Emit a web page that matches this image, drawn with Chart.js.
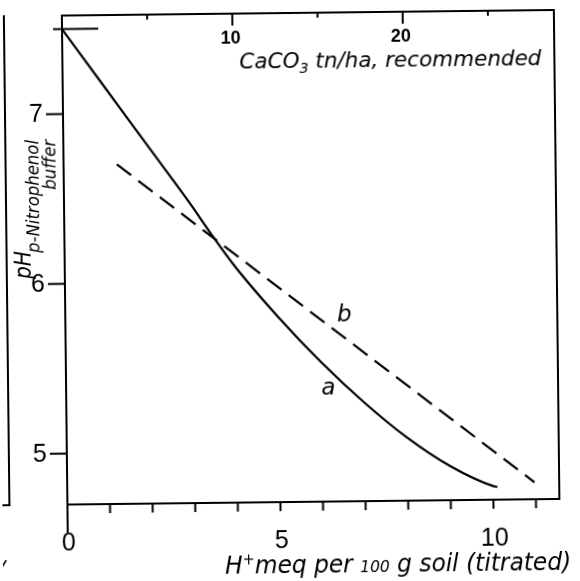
<!DOCTYPE html>
<html>
<head>
<meta charset="utf-8">
<script src="https://cdn.jsdelivr.net/npm/chart.js@4.4.1/dist/chart.umd.min.js"></script>
<style>
  html, body { margin: 0; padding: 0; background: #fff; overflow: hidden; }
  #wrap { width: 580px; height: 581px; transform: rotate(-0.65deg); transform-origin: 290px 290px; }
  canvas { display: block; }
</style>
</head>
<body>
<div id="wrap"><canvas id="chart" width="580" height="581"></canvas></div>
<script>
// Curve a: pH of the p-nitrophenol buffer against titrated H+ (meq per 100 g soil)
const curveAX = [0, 1, 2, 3, 3.43, 4, 5, 6, 7, 8, 9, 10, 10.1];
const curveAY = [7.50, 7.15, 6.80, 6.45, 6.29, 6.09, 5.79, 5.52, 5.28, 5.07, 4.90, 4.78, 4.775];
// Line b (dashed): straight relation, end points
const lineBX = [1.25, 10.97];
const lineBY = [6.70, 4.80];
// Axis ticks
const pHTicks = [5, 6, 7];
const meqTicks = [0, 1, 2, 3, 4, 5, 6, 7, 8, 9, 10, 11];
const meqLabels = [0, 5, 10];
const limeTicks = [5, 10, 15, 20, 25];
const limeLabels = [10, 20];
// CaCO3 (t/ha) recommended per meq H+ per 100 g soil
const limePerMeq = 2.5;
// starting pH of the buffer
const startPH = 7.5;
// curve labels: [text, x (meq), pH at baseline]
const curveLabels = [['b', 6.55, 5.76], ['a', 6.16, 5.33]];

const xMin = 0, xMax = 11.55, yMin = 4.70, yMax = 7.58;

const NARROW = '"Liberation Sans Narrow", "Liberation Sans", sans-serif';
const SANS = '"Liberation Sans", sans-serif';
const ITAL = '"DejaVu Sans", "Liberation Sans", sans-serif';

function richText(ctx, parts, x, y, width, align) {
  let total = 0;
  parts.forEach(p => { ctx.font = p[1]; total += ctx.measureText(p[0]).width; });
  const sx = width ? width / total : 1;
  ctx.save();
  ctx.translate(x, y);
  ctx.scale(sx, 1);
  let cx = align === 'right' ? -total : 0;
  ctx.textAlign = 'left';
  ctx.textBaseline = 'alphabetic';
  parts.forEach(p => {
    ctx.font = p[1];
    ctx.fillText(p[0], cx, p[2] || 0);
    cx += ctx.measureText(p[0]).width;
  });
  ctx.restore();
}

function seg(ctx, x1, y1, x2, y2) {
  ctx.beginPath();
  ctx.moveTo(x1, y1);
  ctx.lineTo(x2, y2);
  ctx.stroke();
}

const decor = {
  id: 'decor',
  afterDatasetsDraw(chart) {
    const { ctx, chartArea: a, scales } = chart;
    const x = scales.x, y = scales.y, x2 = scales.x2;
    ctx.save();
    ctx.strokeStyle = '#000';
    ctx.fillStyle = '#000';
    ctx.lineWidth = 2;

    // frame
    ctx.strokeRect(a.left, a.top, a.right - a.left, a.bottom - a.top);
    // left axis runs on below the frame
    seg(ctx, a.left, a.bottom, a.left, a.bottom + 28);

    // edge of the neighbouring panel
    seg(ctx, 7, a.top - 1, 7, a.bottom + 1);
    seg(ctx, -2, a.bottom, 7, a.bottom);

    // pH ticks and labels
    ctx.font = '25px ' + NARROW;
    ctx.textAlign = 'right';
    ctx.textBaseline = 'middle';
    pHTicks.forEach(v => {
      const py = y.getPixelForValue(v);
      seg(ctx, a.left - 17, py, a.left, py);
      ctx.fillText(String(v), a.left - 20, py + 1);
    });

    // starting pH marker
    const p75 = y.getPixelForValue(startPH);
    seg(ctx, x.getPixelForValue(-0.21), p75, x.getPixelForValue(0.85), p75);

    // bottom axis ticks and labels
    ctx.textAlign = 'center';
    ctx.textBaseline = 'alphabetic';
    meqTicks.forEach(v => {
      const px = x.getPixelForValue(v);
      seg(ctx, px, a.bottom, px, a.bottom + 9);
    });
    meqLabels.forEach(v => {
      ctx.fillText(String(v), x.getPixelForValue(v) + 1, a.bottom + 46);
    });

    // top axis (CaCO3) ticks and labels
    limeTicks.forEach(v => {
      const px = x2.getPixelForValue(v);
      const len = limeLabels.includes(v) ? 12 : 5;
      seg(ctx, px, a.top, px, a.top + len);
    });
    ctx.font = 'bold 18px ' + SANS;
    limeLabels.forEach(v => {
      ctx.fillText(String(v), x2.getPixelForValue(v) - 2, a.top + 30);
    });

    // top axis title
    richText(ctx, [
      ['CaCO', 'italic 21px ' + ITAL],
      ['3', 'italic 14px ' + ITAL, 5],
      [' tn/ha, recommended', 'italic 21px ' + ITAL]
    ], 242, a.top + 55, 302);

    // bottom axis title
    richText(ctx, [
      ['H', 'italic 24px ' + ITAL],
      ['+', 'italic 15px ' + ITAL, -9],
      ['meq per ', 'italic 24px ' + ITAL],
      ['100', 'italic 16px ' + ITAL],
      [' g soil (titrated)', 'italic 24px ' + ITAL]
    ], 222, a.bottom + 71, 346);

    // y axis title, rotated
    const rot = (bx, by, parts, width, align) => {
      ctx.save();
      ctx.translate(bx, by);
      ctx.rotate(-Math.PI / 2);
      richText(ctx, parts, 0, 0, width, align);
      ctx.restore();
    };
    rot(31, 276, [['pH', 'italic 23px ' + ITAL]], 28);
    rot(40, 250, [['p-Nitrophenol', 'italic 17px ' + ITAL]], 113);
    rot(57, 137, [['buffer', 'italic 17px ' + ITAL]], 50, 'right');

    // curve labels
    ctx.font = 'italic 23px ' + ITAL;
    ctx.textAlign = 'center';
    ctx.textBaseline = 'alphabetic';
    curveLabels.forEach(l => {
      ctx.fillText(l[0], x.getPixelForValue(l[1]), y.getPixelForValue(l[2]));
    });

    // fragment of a neighbouring label
    ctx.font = 'italic 20px ' + ITAL;
    ctx.textAlign = 'left';
    ctx.fillText('y', -8, 568);

    ctx.restore();
  }
};

new Chart(document.getElementById('chart'), {
  type: 'scatter',
  data: {
    datasets: [
      {
        label: 'a',
        data: curveAX.map((v, i) => ({ x: v, y: curveAY[i] })),
        showLine: true,
        borderColor: '#000',
        borderWidth: 2.2,
        pointRadius: 0,
        cubicInterpolationMode: 'monotone',
        fill: false
      },
      {
        label: 'b',
        data: lineBX.map((v, i) => ({ x: v, y: lineBY[i] })),
        showLine: true,
        borderColor: '#000',
        borderWidth: 2.2,
        borderDash: [18, 9],
        pointRadius: 0,
        fill: false
      }
    ]
  },
  options: {
    responsive: false,
    devicePixelRatio: 1,
    animation: false,
    layout: { padding: { left: 65, right: 23, top: 13, bottom: 79 } },
    plugins: { legend: { display: false }, tooltip: { enabled: false } },
    scales: {
      x: { type: 'linear', min: xMin, max: xMax, display: false },
      x2: { type: 'linear', position: 'top', min: xMin * limePerMeq, max: xMax * limePerMeq, display: false },
      y: { type: 'linear', min: yMin, max: yMax, display: false }
    }
  },
  plugins: [decor]
});
</script>
</body>
</html>
